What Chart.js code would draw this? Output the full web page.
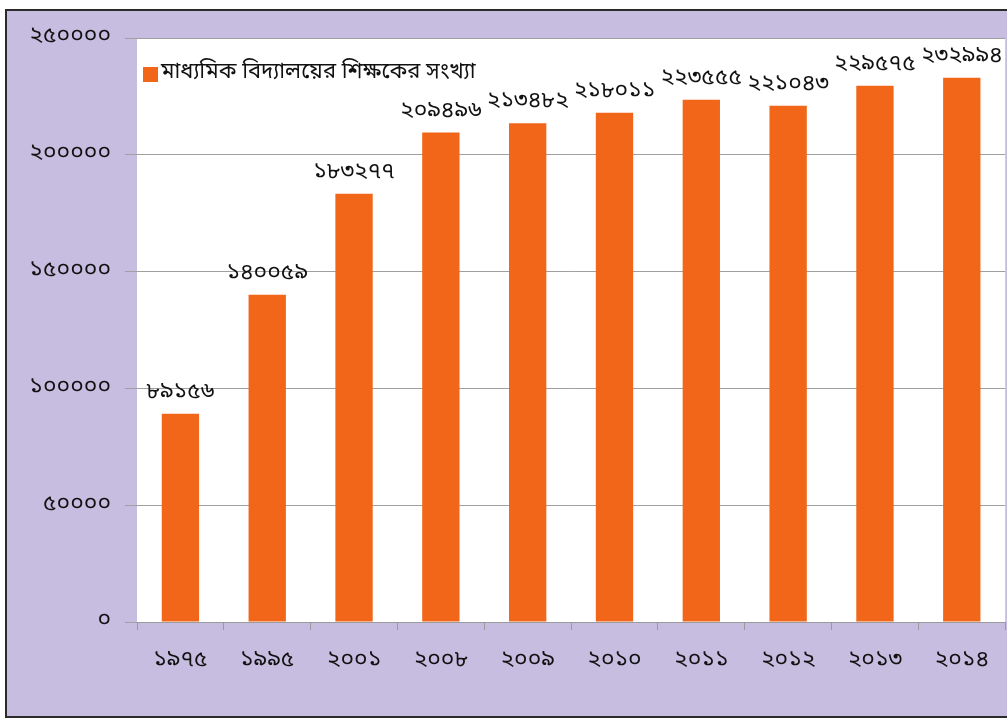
<!DOCTYPE html>
<html>
<head>
<meta charset="utf-8">
<script src="https://cdn.jsdelivr.net/npm/chart.js@4"></script>
<style>
  body { margin: 0; background: #fff; width: 1007px; height: 719px; overflow: hidden; position: relative; }
  #frame { position: absolute; left: 5px; top: 9px; width: 1010px; height: 705px; border: 2px solid #2b2b2b; background: #c7bde0; }
  #wrap { position: absolute; left: 0; top: 0; width: 1007px; height: 719px; }
</style>
</head>
<body>
<div id="frame"></div>
<div id="wrap"><canvas id="barChart" width="1007" height="719"></canvas></div>
<script>
var years = ['১৯৭৫', '১৯৯৫', '২০০১', '২০০৮', '২০০৯', '২০১০', '২০১১', '২০১২', '২০১৩', '২০১৪'];
var teachers = [89156, 140059, 183277, 209496, 213482, 218011, 223555, 221043, 229575, 232994];
var seriesName = 'মাধ্যমিক বিদ্যালয়ের শিক্ষকের সংখ্যা';

var bnFont = "'Noto Sans Bengali', 'Lohit Bengali', 'Noto Serif Bengali', 'FreeSans', sans-serif";

// english digits -> bengali digits
function toBn(n) {
    var d = '০১২৩৪৫৬৭৮৯';
    return String(n).replace(/[0-9]/g, function(c) { return d[+c]; });
}

var whitePlot = {
    id: 'whitePlot',
    beforeDraw: function(chart) {
        var a = chart.chartArea, ctx = chart.ctx;
        ctx.save();
        ctx.fillStyle = '#ffffff';
        ctx.fillRect(a.left, a.top, a.right - a.left, a.bottom - a.top);
        ctx.restore();
    }
};

// value labels above bars + legend in top left corner
var labelsAndLegend = {
    id: 'labelsAndLegend',
    afterDatasetsDraw: function(chart) {
        var ctx = chart.ctx;
        var meta = chart.getDatasetMeta(0);
        ctx.save();
        ctx.fillStyle = '#111';
        ctx.font = '23px ' + bnFont;
        ctx.textAlign = 'center';
        ctx.textBaseline = 'bottom';
        meta.data.forEach(function(bar, i) {
            ctx.fillText(toBn(teachers[i]), bar.x, bar.y - 9);
        });

        var a = chart.chartArea;
        ctx.fillStyle = '#f2661a';
        ctx.fillRect(a.left + 6, a.top + 29, 15, 15);
        ctx.fillStyle = '#111';
        ctx.font = '22px ' + bnFont;
        ctx.textAlign = 'left';
        ctx.textBaseline = 'middle';
        ctx.fillText(seriesName, a.left + 24, a.top + 36);
        ctx.restore();
    }
};

new Chart(document.getElementById('barChart'), {
    type: 'bar',
    data: {
        labels: years,
        datasets: [{
            label: seriesName,
            data: teachers,
            backgroundColor: '#f2661a',
            barPercentage: 0.43,
            categoryPercentage: 1
        }]
    },
    options: {
        responsive: false,
        animation: false,
        layout: { padding: { top: 38, right: 0, left: 0, bottom: 0 } },
        plugins: {
            legend: { display: false },
            tooltip: { enabled: false }
        },
        scales: {
            x: {
                afterFit: function(scale) { scale.height = 97; },
                grid: {
                    display: true,
                    drawOnChartArea: false,
                    color: '#9a9a9a',
                    tickLength: 8
                },
                border: { color: '#9a9a9a' },
                ticks: {
                    color: '#111',
                    font: { size: 23, family: bnFont },
                    padding: 18,
                    maxRotation: 0
                }
            },
            y: {
                min: 0,
                max: 250000,
                afterFit: function(scale) { scale.width = 137; },
                grid: {
                    color: '#a0a0a0',
                    tickLength: 12
                },
                border: { display: false },
                ticks: {
                    stepSize: 50000,
                    color: '#111',
                    font: { size: 23, family: bnFont },
                    padding: 14,
                    callback: function(v) { return toBn(v); }
                }
            }
        }
    },
    plugins: [whitePlot, labelsAndLegend]
});
</script>
</body>
</html>
